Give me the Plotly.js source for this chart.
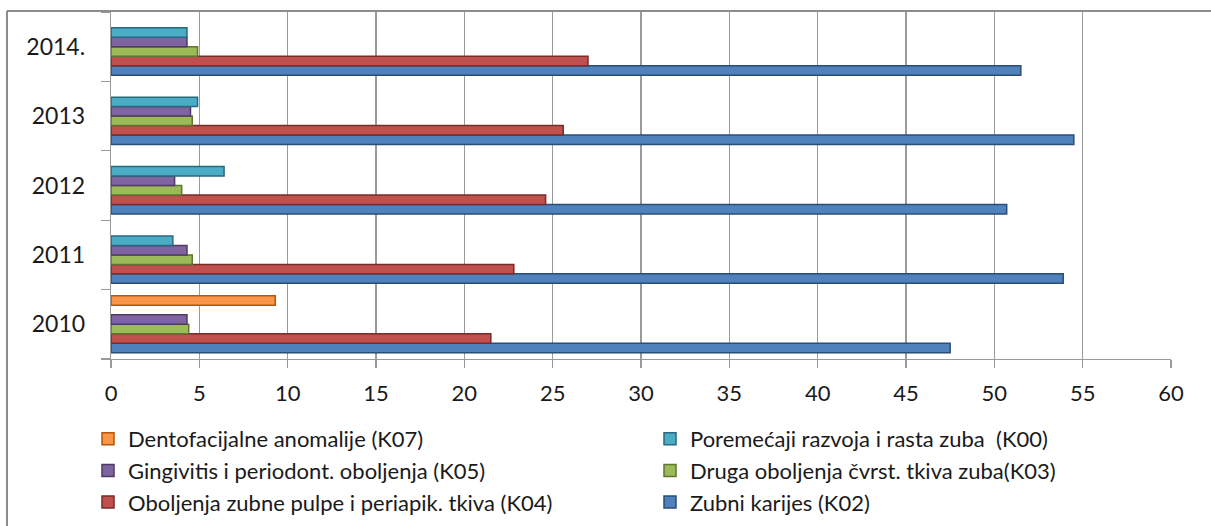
<!DOCTYPE html>
<html>
<head>
<meta charset="utf-8">
<script src="https://cdn.plot.ly/plotly-3.0.1.min.js"></script>
<style>
html,body{margin:0;padding:0;background:#fff;}
#chart{width:1211px;height:526px;}
</style>
</head>
<body>
<div id="chart"></div>
<script>
const years = ['2010', '2011', '2012', '2013', '2014.'];

const seriesNames = [
  'Zubni karijes (K02)',
  'Oboljenja zubne pulpe i periapik. tkiva (K04)',
  'Druga oboljenja čvrst. tkiva zuba(K03)',
  'Gingivitis i periodont. oboljenja (K05)',
  'Poremećaji razvoja i rasta zuba  (K00)',
  'Dentofacijalne anomalije (K07)'
];

const zubniKarijes   = [47.5, 53.9, 50.7, 54.5, 51.5];
const zubnaPulpa     = [21.5, 22.8, 24.6, 25.6, 27.0];
const drugaOboljenja = [4.4, 4.6, 4.0, 4.6, 4.9];
const gingivitis     = [4.3, 4.3, 3.6, 4.5, 4.3];
const poremecaji     = [null, 3.5, 6.4, 4.9, 4.3];
const dentofacijalne = [9.3, null, null, null, null];

const xTicks = [0, 5, 10, 15, 20, 25, 30, 35, 40, 45, 50, 55, 60];

const seriesValues = [zubniKarijes, zubnaPulpa, drugaOboljenja, gingivitis, poremecaji, dentofacijalne];
const fillColors = ['#4F81BD', '#C0504D', '#9BBB59', '#8064A2', '#4BACC6', '#F79646'];
const lineColors = ['#2C4D75', '#772C2A', '#5F7530', '#4D3B62', '#276A7C', '#B65708'];

const traces = seriesValues.map((vals, i) => ({
  type: 'bar',
  orientation: 'h',
  name: seriesNames[i],
  y: years,
  x: vals,
  marker: {color: fillColors[i], line: {color: lineColors[i], width: 1.5}},
  hoverinfo: 'x+name'
}));

const W = 1211, H = 526;
const mL = 111, mR = 40, mT = 12, mB = 167;
const pw = W - mL - mR, ph = H - mT - mB;

const layout = {
  width: W, height: H,
  margin: {l: mL, r: mR, t: mT, b: mB, pad: 0, autoexpand: false},
  paper_bgcolor: '#ffffff',
  plot_bgcolor: '#ffffff',
  font: {family: 'Lato, Carlito, "Open Sans", sans-serif', size: 22, color: '#1a1a1a'},
  barmode: 'group',
  bargap: 0.18,
  bargroupgap: 0,
  showlegend: true,
  xaxis: {
    range: [0, 60],
    tickvals: xTicks,
    ticktext: xTicks.map(String),
    showgrid: true,
    gridcolor: '#9a9a9a',
    gridwidth: 1.3,
    zeroline: false,
    showline: true,
    linecolor: '#9a9a9a',
    linewidth: 1.3,
    ticks: 'outside',
    ticklen: 8,
    tickcolor: '#9a9a9a',
    tickwidth: 1.3,
    ticklabelstandoff: 6,
    tickfont: {size: 22, color: '#1a1a1a'},
    automargin: false,
    fixedrange: true
  },
  yaxis: {
    type: 'category',
    categoryorder: 'array',
    categoryarray: years,
    showgrid: false,
    zeroline: false,
    showline: true,
    linecolor: '#9a9a9a',
    linewidth: 1.3,
    ticks: 'outside',
    tickson: 'boundaries',
    ticklen: 9,
    tickcolor: '#9a9a9a',
    tickwidth: 1.3,
    ticklabelstandoff: 20,
    tickfont: {size: 23, color: '#1a1a1a'},
    automargin: false,
    fixedrange: true
  },
  legend: {
    orientation: 'h',
    traceorder: 'reversed',
    x: (88 - mL) / pw,
    xanchor: 'left',
    y: -(418 - mT - ph) / ph,
    yanchor: 'top',
    entrywidth: 517,
    entrywidthmode: 'pixels',
    font: {size: 22, color: '#1a1a1a'},
    bgcolor: 'rgba(0,0,0,0)'
  },
  shapes: [
    {type: 'line', xref: 'paper', yref: 'paper',
     x0: (7 - mL) / pw, x1: (W + 5 - mL) / pw,
     y0: 1 + (mT - 11) / ph, y1: 1 + (mT - 11) / ph,
     line: {color: '#8c8c8c', width: 2}},
    {type: 'line', xref: 'paper', yref: 'paper',
     x0: (7 - mL) / pw, x1: (7 - mL) / pw,
     y0: 1 + (mT - 11) / ph, y1: -(H + 5 - mT - ph) / ph,
     line: {color: '#8c8c8c', width: 2}}
  ]
};

Plotly.newPlot('chart', traces, layout, {displayModeBar: false, staticPlot: true});
</script>
</body>
</html>
